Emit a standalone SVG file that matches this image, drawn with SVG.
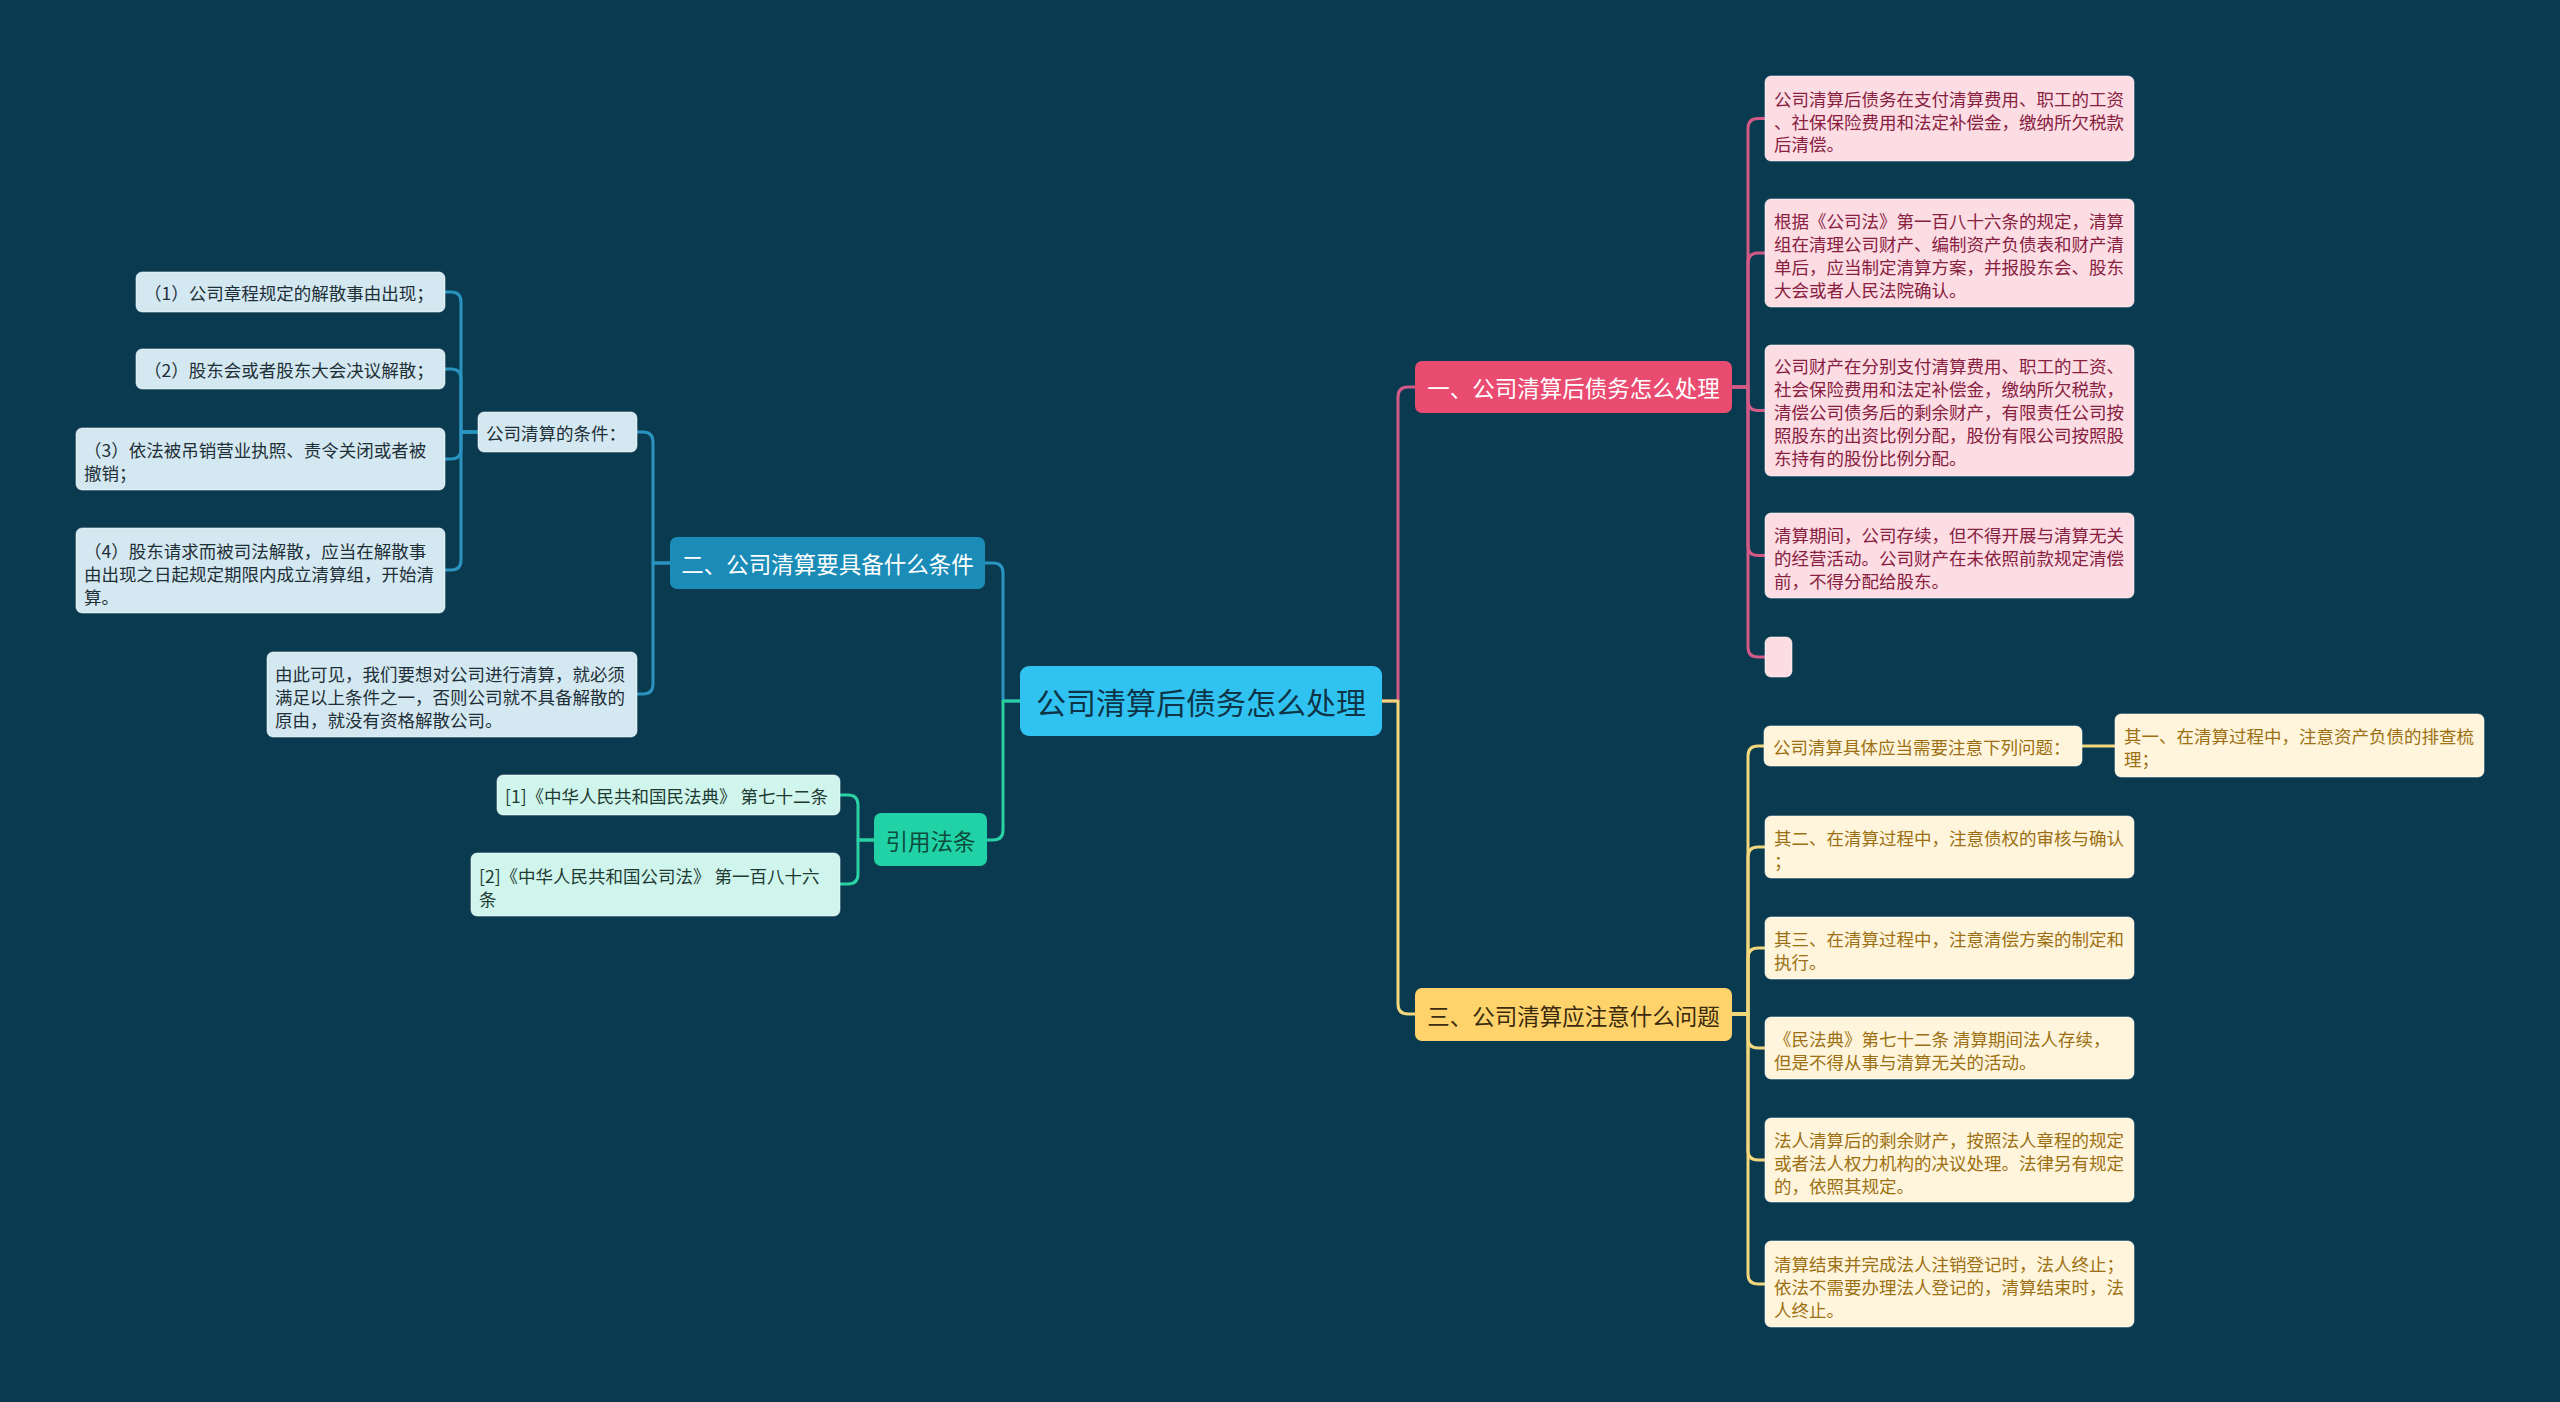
<svg xmlns="http://www.w3.org/2000/svg" width="2560" height="1402" viewBox="0 0 2560 1402">
<style>
text{font-family:"Noto Sans CJK SC","Noto Sans",sans-serif;}
.c{fill:none;stroke-width:3;stroke-linecap:round;stroke-linejoin:round}
.cp{stroke:#d25a86}.cy{stroke:#f2d77c}.cb{stroke:#2a93c0}.cg{stroke:#2ad1a3}
.leaf{stroke:#ffffff;stroke-opacity:0.55;stroke-width:1}
.lp{fill:#fcdde4}.ly{fill:#fff5dc}.lb{fill:#d3e8f0}.lg{fill:#cff5ec}
.t{font-size:17.5px;dominant-baseline:central}
.tp{fill:#88203f}.ty{fill:#9c7012}.tb{fill:#1f2f38}.tg{fill:#1f3a33}
.br{font-size:22.5px;dominant-baseline:central;text-anchor:middle}
</style>
<rect width="2560" height="1402" fill="#0a3a4f"/>
<g id="connectors">
<path class="c cp" d="M1382,701 H1398 V397 Q1398,387 1408,387 H1415"/>
<path class="c cy" d="M1382,701 H1398 V1004 Q1398,1014 1408,1014 H1415"/>
<path class="c cb" d="M1020,701 H1003 V573 Q1003,563 993,563 H985"/>
<path class="c cg" d="M1020,701 H1003 V830 Q1003,840 993,840 H987"/>
<path class="c cp" d="M1732,387 H1748 V128.5 Q1748,118.5 1758,118.5 H1765"/>
<path class="c cp" d="M1732,387 H1748 V263 Q1748,253 1758,253 H1765"/>
<path class="c cp" d="M1732,387 H1748 V400.5 Q1748,410.5 1758,410.5 H1765"/>
<path class="c cp" d="M1732,387 H1748 V545.5 Q1748,555.5 1758,555.5 H1765"/>
<path class="c cp" d="M1732,387 H1748 V647 Q1748,657 1758,657 H1765"/>
<path class="c cy" d="M1732,1014 H1748 V756 Q1748,746 1758,746 H1765"/>
<path class="c cy" d="M1732,1014 H1748 V857 Q1748,847 1758,847 H1765"/>
<path class="c cy" d="M1732,1014 H1748 V958 Q1748,948 1758,948 H1765"/>
<path class="c cy" d="M1732,1014 H1748 V1038 Q1748,1048 1758,1048 H1765"/>
<path class="c cy" d="M1732,1014 H1748 V1150 Q1748,1160 1758,1160 H1765"/>
<path class="c cy" d="M1732,1014 H1748 V1274 Q1748,1284 1758,1284 H1765"/>
<path class="c cy" d="M2082,746 H2115"/>
<path class="c cb" d="M670,563 H653 V442 Q653,432 643,432 H637"/>
<path class="c cb" d="M670,563 H653 V684 Q653,694 643,694 H637"/>
<path class="c cb" d="M478,432 H461 V302 Q461,292 451,292 H445"/>
<path class="c cb" d="M478,432 H461 V379 Q461,369 451,369 H445"/>
<path class="c cb" d="M478,432 H461 V449 Q461,459 451,459 H445"/>
<path class="c cb" d="M478,432 H461 V560 Q461,570 451,570 H445"/>
<path class="c cg" d="M874,840 H858 V805 Q858,795 848,795 H840"/>
<path class="c cg" d="M874,840 H858 V874 Q858,884 848,884 H840"/>
</g>
<g id="center">
<rect x="1020" y="666" width="362" height="70" rx="9" fill="#30c3f2"/>
<text x="1201" y="701" font-size="30" fill="#0d3447" text-anchor="middle" dominant-baseline="central">公司清算后债务怎么处理</text>
</g>
<g id="branch1">
<rect x="1415" y="361" width="317" height="52" rx="7" fill="#ea4b70"/>
<text class="br" x="1573.5" y="387" fill="#ffffff">一、公司清算后债务怎么处理</text>
</g>
<g id="branch2">
<rect x="670" y="537" width="315" height="52" rx="7" fill="#1b8cb7"/>
<text class="br" x="827.5" y="563" fill="#ffffff">二、公司清算要具备什么条件</text>
</g>
<g id="branch3">
<rect x="1415" y="988" width="317" height="53" rx="7" fill="#ffd36b"/>
<text class="br" x="1573.5" y="1014.5" fill="#3a2a0e">三、公司清算应注意什么问题</text>
</g>
<g id="branch4">
<rect x="874" y="813" width="113" height="53" rx="7" fill="#20d2a5"/>
<text class="br" x="930.5" y="839.5" fill="#0d4b3c">引用法条</text>
</g>
<g id="p1">
<rect class="leaf lp" x="1765" y="76" width="369" height="85" rx="6"/>
<text class="t tp" x="1774"><tspan x="1774" y="98">公司清算后债务在支付清算费用、职工的工资</tspan><tspan x="1774" y="120.5">、社保保险费用和法定补偿金，缴纳所欠税款</tspan><tspan x="1774" y="143">后清偿。</tspan></text>
</g>
<g id="p2">
<rect class="leaf lp" x="1765" y="199" width="369" height="108" rx="6"/>
<text class="t tp"><tspan x="1774" y="220">根据《公司法》第一百八十六条的规定，清算</tspan><tspan x="1774" y="243">组在清理公司财产、编制资产负债表和财产清</tspan><tspan x="1774" y="266">单后，应当制定清算方案，并报股东会、股东</tspan><tspan x="1774" y="289">大会或者人民法院确认。</tspan></text>
</g>
<g id="p3">
<rect class="leaf lp" x="1765" y="345" width="369" height="131" rx="6"/>
<text class="t tp"><tspan x="1774" y="365">公司财产在分别支付清算费用、职工的工资、</tspan><tspan x="1774" y="388">社会保险费用和法定补偿金，缴纳所欠税款，</tspan><tspan x="1774" y="411">清偿公司债务后的剩余财产，有限责任公司按</tspan><tspan x="1774" y="434">照股东的出资比例分配，股份有限公司按照股</tspan><tspan x="1774" y="457">东持有的股份比例分配。</tspan></text>
</g>
<g id="p4">
<rect class="leaf lp" x="1765" y="513" width="369" height="85" rx="6"/>
<text class="t tp"><tspan x="1774" y="534">清算期间，公司存续，但不得开展与清算无关</tspan><tspan x="1774" y="557">的经营活动。公司财产在未依照前款规定清偿</tspan><tspan x="1774" y="580">前，不得分配给股东。</tspan></text>
</g>
<g id="p5">
<rect class="leaf lp" x="1765" y="637" width="27" height="40" rx="6"/>
</g>
<g id="y1">
<rect class="leaf ly" x="1764" y="726" width="318" height="40" rx="6"/>
<text class="t ty" x="1773" y="746">公司清算具体应当需要注意下列问题：</text>
</g>
<g id="y1a">
<rect class="leaf ly" x="2115" y="714" width="369" height="63" rx="6"/>
<text class="t ty"><tspan x="2124" y="735">其一、在清算过程中，注意资产负债的排查梳</tspan><tspan x="2124" y="758">理；</tspan></text>
</g>
<g id="y2">
<rect class="leaf ly" x="1765" y="816" width="369" height="62" rx="6"/>
<text class="t ty"><tspan x="1774" y="837">其二、在清算过程中，注意债权的审核与确认</tspan><tspan x="1774" y="860">；</tspan></text>
</g>
<g id="y3">
<rect class="leaf ly" x="1765" y="917" width="369" height="62" rx="6"/>
<text class="t ty"><tspan x="1774" y="938">其三、在清算过程中，注意清偿方案的制定和</tspan><tspan x="1774" y="961">执行。</tspan></text>
</g>
<g id="y4">
<rect class="leaf ly" x="1765" y="1017" width="369" height="62" rx="6"/>
<text class="t ty"><tspan x="1774" y="1038">《民法典》第七十二条 清算期间法人存续，</tspan><tspan x="1774" y="1061">但是不得从事与清算无关的活动。</tspan></text>
</g>
<g id="y5">
<rect class="leaf ly" x="1765" y="1118" width="369" height="84" rx="6"/>
<text class="t ty"><tspan x="1774" y="1139">法人清算后的剩余财产，按照法人章程的规定</tspan><tspan x="1774" y="1162">或者法人权力机构的决议处理。法律另有规定</tspan><tspan x="1774" y="1185">的，依照其规定。</tspan></text>
</g>
<g id="y6">
<rect class="leaf ly" x="1765" y="1241" width="369" height="86" rx="6"/>
<text class="t ty"><tspan x="1774" y="1263">清算结束并完成法人注销登记时，法人终止；</tspan><tspan x="1774" y="1286">依法不需要办理法人登记的，清算结束时，法</tspan><tspan x="1774" y="1309">人终止。</tspan></text>
</g>
<g id="cond">
<rect class="leaf lb" x="478" y="412" width="159" height="40" rx="6"/>
<text class="t tb" x="486" y="432">公司清算的条件：</text>
</g>
<g id="l1">
<rect class="leaf lb" x="136" y="272" width="309" height="40" rx="6"/>
<text class="t tb" x="144" y="292">（1）公司章程规定的解散事由出现；</text>
</g>
<g id="l2">
<rect class="leaf lb" x="136" y="349" width="309" height="40" rx="6"/>
<text class="t tb" x="144" y="369">（2）股东会或者股东大会决议解散；</text>
</g>
<g id="l3">
<rect class="leaf lb" x="76" y="428" width="369" height="62" rx="6"/>
<text class="t tb"><tspan x="84" y="449">（3）依法被吊销营业执照、责令关闭或者被</tspan><tspan x="84" y="472">撤销；</tspan></text>
</g>
<g id="l4">
<rect class="leaf lb" x="76" y="528" width="369" height="85" rx="6"/>
<text class="t tb"><tspan x="84" y="550">（4）股东请求而被司法解散，应当在解散事</tspan><tspan x="84" y="573">由出现之日起规定期限内成立清算组，开始清</tspan><tspan x="84" y="596">算。</tspan></text>
</g>
<g id="l5">
<rect class="leaf lb" x="267" y="652" width="370" height="85" rx="6"/>
<text class="t tb"><tspan x="275" y="673">由此可见，我们要想对公司进行清算，就必须</tspan><tspan x="275" y="696">满足以上条件之一，否则公司就不具备解散的</tspan><tspan x="275" y="719">原由，就没有资格解散公司。</tspan></text>
</g>
<g id="r1">
<rect class="leaf lg" x="497" y="775" width="343" height="40" rx="6"/>
<text class="t tg" x="505" y="795">[1]《中华人民共和国民法典》 第七十二条</text>
</g>
<g id="r2">
<rect class="leaf lg" x="471" y="853" width="369" height="63" rx="6"/>
<text class="t tg"><tspan x="479" y="875">[2]《中华人民共和国公司法》 第一百八十六</tspan><tspan x="479" y="898">条</tspan></text>
</g>
</svg>
